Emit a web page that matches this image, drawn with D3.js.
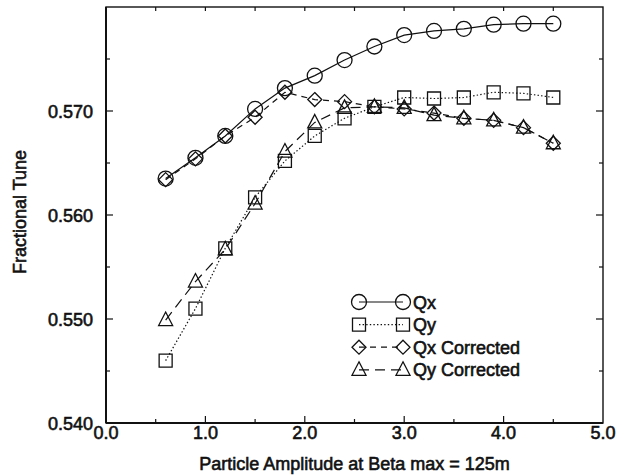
<!DOCTYPE html>
<html>
<head>
<meta charset="utf-8">
<script src="https://cdn.jsdelivr.net/npm/d3@7"></script>
<style>
  html, body { margin: 0; padding: 0; background: #fff; }
  svg { display: block; }
  text { font-family: "Liberation Sans", Arial, Helvetica, sans-serif; fill: #111; }
</style>
</head>
<body>
<svg id="chart" width="624" height="475"></svg>
<script>
// Particle amplitude (x) and fractional tune of each series
const amplitude = [0.6, 0.9, 1.2, 1.5, 1.8, 2.1, 2.4, 2.7, 3.0, 3.3, 3.6, 3.9, 4.2, 4.5];
const qx =          [0.5635, 0.5655, 0.5676, 0.5702, 0.5722, 0.5734, 0.5749, 0.5762, 0.5773, 0.5777, 0.5779, 0.5783, 0.5784, 0.5784];
const qy =          [0.5460, 0.5510, 0.5568, 0.5617, 0.5652, 0.5676, 0.5693, 0.5704, 0.5713, 0.5712, 0.5713, 0.5718, 0.5717, 0.5713];
const qxCorrected = [0.5634, 0.5654, 0.5676, 0.5694, 0.5718, 0.5711, 0.5709, 0.5704, 0.5702, 0.5698, 0.5693, 0.5691, 0.5684, 0.5669];
const qyCorrected = [0.5499, 0.5536, 0.5567, 0.5611, 0.5661, 0.5689, 0.5703, 0.5704, 0.5703, 0.5696, 0.5693, 0.5691, 0.5684, 0.5669];

const seriesNames = ["Qx", "Qy", "Qx Corrected", "Qy Corrected"];
const xTicks = [0, 1, 2, 3, 4, 5];
const yTicks = [0.540, 0.550, 0.560, 0.570];

const ink = "#111";
const svg = d3.select("#chart");

const plot = { left: 106, right: 603, top: 7, bottom: 423 };
const x = d3.scaleLinear().domain([0, 5]).range([plot.left, plot.right]);
const y = d3.scaleLinear().domain([0.540, 0.580]).range([plot.bottom, plot.top]);

// Marker shapes drawn around the origin
const markers = {
  circle: () => d3.symbol().type(d3.symbolCircle).size(Math.PI * 7.5 * 7.5)(),
  square: () => "M-6.5,-6.5H6.5V6.5H-6.5Z",
  diamond: () => "M0,-7L7,0L0,7L-7,0Z",
  triangle: () => "M0,-8L7,5.5H-7Z"
};

const series = [
  { name: seriesNames[0], values: qx, marker: "circle", dash: null },
  { name: seriesNames[1], values: qy, marker: "square", dash: "1.4,2.2" },
  { name: seriesNames[2], values: qxCorrected, marker: "diamond", dash: "6,5" },
  { name: seriesNames[3], values: qyCorrected, marker: "triangle", dash: "10,6" }
];

// Frame: heavier left and bottom edges
const frame = svg.append("g").attr("stroke", ink).attr("fill", "none");
frame.append("rect")
  .attr("x", plot.left).attr("y", plot.top)
  .attr("width", plot.right - plot.left).attr("height", plot.bottom - plot.top)
  .attr("stroke-width", 1.4);
frame.append("line").attr("x1", plot.left).attr("x2", plot.left)
  .attr("y1", plot.top).attr("y2", plot.bottom).attr("stroke-width", 2);
frame.append("line").attr("x1", plot.left).attr("x2", plot.right)
  .attr("y1", plot.bottom).attr("y2", plot.bottom).attr("stroke-width", 2);

// Inward ticks on all four sides
function tickLines(g, vals, isMajor, orient) {
  vals.forEach(v => {
    const len = isMajor(v) ? 7 : 4;
    let x1, x2, y1, y2;
    if (orient === "bottom") { x1 = x2 = x(v); y1 = plot.bottom; y2 = plot.bottom - len; }
    if (orient === "top")    { x1 = x2 = x(v); y1 = plot.top; y2 = plot.top + 4; }
    if (orient === "left")   { y1 = y2 = y(v); x1 = plot.left; x2 = plot.left + len; }
    if (orient === "right")  { y1 = y2 = y(v); x1 = plot.right; x2 = plot.right - len; }
    g.append("line").attr("x1", x1).attr("x2", x2).attr("y1", y1).attr("y2", y2)
      .attr("stroke", ink).attr("stroke-width", 1.2);
  });
}
const tickG = svg.append("g");
const xMinor = d3.range(0.5, 5, 0.5);
const yMinor = d3.range(0.545, 0.5799, 0.005);
const isIntX = v => Math.abs(v - Math.round(v)) < 1e-9;
const isMajY = v => Math.abs(v * 100 - Math.round(v * 100)) < 1e-6;
tickLines(tickG, xMinor, isIntX, "bottom");
tickLines(tickG, xMinor, isIntX, "top");
tickLines(tickG, yMinor, isMajY, "left");
tickLines(tickG, yMinor, isMajY, "right");

// Tick labels
const labelStyle = sel => sel.attr("font-size", 18).attr("stroke", ink).attr("stroke-width", 0.6);
svg.append("g").selectAll("text").data(xTicks).join("text")
  .attr("x", d => x(d)).attr("y", 439)
  .attr("text-anchor", "middle")
  .text(d => d3.format(".1f")(d))
  .call(labelStyle);
svg.append("g").selectAll("text").data(yTicks).join("text")
  .attr("x", 93).attr("y", d => y(d) + 6.5)
  .attr("text-anchor", "end")
  .text(d => d3.format(".3f")(d))
  .call(labelStyle);

// Axis titles
svg.append("text")
  .attr("x", (plot.left + plot.right) / 2).attr("y", 470)
  .attr("text-anchor", "middle")
  .text("Particle Amplitude at Beta max = 125m")
  .call(labelStyle);
svg.append("text")
  .attr("transform", `translate(26,${(plot.top + plot.bottom) / 2 - 3}) rotate(-90)`)
  .attr("text-anchor", "middle")
  .text("Fractional Tune")
  .call(labelStyle);

// Series lines and open markers
const line = d3.line().x((d, i) => x(amplitude[i])).y(d => y(d));
const dataG = svg.append("g");
series.forEach(s => {
  dataG.append("path")
    .attr("d", line(s.values))
    .attr("fill", "none").attr("stroke", ink).attr("stroke-width", 1.2)
    .attr("stroke-dasharray", s.dash);
  dataG.append("g").selectAll("path").data(s.values).join("path")
    .attr("transform", (d, i) => `translate(${x(amplitude[i])},${y(d)})`)
    .attr("d", markers[s.marker]())
    .attr("fill", "none").attr("stroke", ink).attr("stroke-width", 1.3);
});

// Legend
const legend = svg.append("g");
const legendTop = 302, legendStep = 22.6;
series.forEach((s, i) => {
  const ly = legendTop + i * legendStep;
  legend.append("line")
    .attr("x1", 359).attr("x2", 403).attr("y1", ly).attr("y2", ly)
    .attr("stroke", ink).attr("stroke-width", 1.2)
    .attr("stroke-dasharray", s.dash);
  [359, 403].forEach(mx => {
    legend.append("path")
      .attr("transform", `translate(${mx},${ly})`)
      .attr("d", markers[s.marker]())
      .attr("fill", "none").attr("stroke", ink).attr("stroke-width", 1.3);
  });
  legend.append("text")
    .attr("x", 413).attr("y", ly + 6.5)
    .text(s.name)
    .call(labelStyle);
});
</script>
</body>
</html>
